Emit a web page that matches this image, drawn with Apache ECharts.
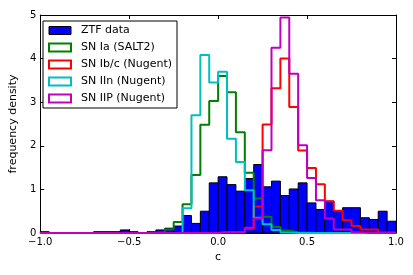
<!DOCTYPE html>
<html>
<head>
<meta charset="utf-8">
<script src="https://cdn.jsdelivr.net/npm/echarts@6/dist/echarts.min.js"></script>
<style>html,body{margin:0;padding:0;background:#fff}#c{width:413px;height:275px}</style>
</head>
<body>
<div id="c"></div>
<script>
// 40 bins of width 0.05 from -1.0 to 1.0 (bin start values)
const binStart = -1.0;
const binWidth = 0.05;
const ztfData = [0.03,0,0,0,0,0,0.03,0.03,0.03,0.07,
                 0.03,0,0.03,0.07,0.11,0.16,0.40,0.22,0.50,1.15,
                 1.29,1.11,0.96,1.25,1.57,1.06,1.19,0.86,1.01,1.15,
                 0.69,0.54,0.73,0.50,0.58,0.58,0.35,0.31,0.50,0.27];
const snIa   = [0,0,0,0,0,0,0,0,0,0,
                0,0,0.01,0.02,0.08,0.25,0.66,1.33,2.48,3.03,
                3.60,3.23,2.31,1.38,0.79,0.37,0.14,0.06,0.02,0.01,
                0,0,0,0,0,0,0,0,0,0];
const snIbc  = [0,0,0,0,0,0,0,0,0,0,
                0,0,0,0,0,0,0,0,0,0,
                0.01,0.01,0.02,0.10,0.61,2.49,3.32,4.00,2.89,1.89,
                1.49,1.12,0.73,0.51,0.29,0.16,0.08,0.08,0.01,0.01];
const snIIn  = [0,0,0,0,0,0,0,0,0,0,
                0,0,0,0,0,0,0.57,2.70,4.08,3.45,
                3.70,2.16,1.63,0.98,0.35,0.20,0.07,0.01,0,0,
                0,0,0,0,0,0,0,0,0,0];
const snIIP  = [0,0,0,0,0,0,0,0,0,0,
                0,0,0,0,0,0,0,0,0,0,
                0.02,0.02,0.02,0.12,0.33,1.90,4.25,4.94,3.65,2.01,
                1.26,0.75,0.33,0.08,0.08,0.02,0,0,0,0];
const xTicks = [-1.0,-0.5,0.0,0.5,1.0];
const yTicks = [0,1,2,3,4,5];
const names = ['ZTF data','SN Ia (SALT2)','SN Ib/c (Nugent)','SN IIn (Nugent)','SN IIP (Nugent)'];

const FONT = 'DejaVu Sans';
function edge(i){ return +(binStart + binWidth*i).toFixed(4); }
function stepPoints(vals){
  const pts = [[edge(0),0]];
  vals.forEach((v,i)=>{ pts.push([edge(i),v]); pts.push([edge(i+1),v]); });
  pts.push([edge(vals.length),0]);
  return pts;
}
const barData = ztfData.map((v,i)=>[edge(i),edge(i+1),v]);
function fmt(v){ return (v<0?'\u2212':'') + Math.abs(v).toFixed(1); }

const chart = echarts.init(document.getElementById('c'), null, {renderer:'canvas'});
const axisCommon = {
  axisLine:{show:true,onZero:false,lineStyle:{color:'#000',width:1}},
  axisTick:{show:true,inside:true,length:4,lineStyle:{color:'#000',width:1}},
  splitLine:{show:false}
};
function stepSeries(name, vals, color){
  return {type:'line', name:name, data:stepPoints(vals), showSymbol:false, symbol:'none',
    lineStyle:{color:color,width:2}, itemStyle:{color:color}, animation:false, z:3,
    xAxisIndex:0, yAxisIndex:0};
}
const colors = ['#0000ff','#008000','#ff0000','#00bfbf','#bf00bf'];
chart.setOption({
  animation:false,
  backgroundColor:'#fff',
  grid:{left:37,right:17,top:15,bottom:42},
  legend:{
    orient:'vertical', left:43, top:21, padding:[4,5,4,5],
    itemWidth:22, itemHeight:8, itemGap:6,
    borderColor:'#000', borderWidth:1, backgroundColor:'#fff',
    textStyle:{fontFamily:FONT,fontSize:11,color:'#000',padding:[0,0,0,5]},
    selectedMode:false,
    data:[
      {name:names[0],icon:'rect',itemStyle:{color:colors[0],borderColor:'#000',borderWidth:1}},
      {name:names[1],icon:'rect',itemStyle:{color:'#fff',borderColor:colors[1],borderWidth:2}},
      {name:names[2],icon:'rect',itemStyle:{color:'#fff',borderColor:colors[2],borderWidth:2}},
      {name:names[3],icon:'rect',itemStyle:{color:'#fff',borderColor:colors[3],borderWidth:2}},
      {name:names[4],icon:'rect',itemStyle:{color:'#fff',borderColor:colors[4],borderWidth:2}}
    ]
  },
  xAxis:[
    Object.assign({type:'value',min:xTicks[0],max:xTicks[xTicks.length-1],interval:0.5,position:'bottom',
      axisLabel:{fontFamily:FONT,fontSize:10,color:'#000',margin:4,formatter:fmt},
      name:'c',nameLocation:'middle',nameGap:19,nameTextStyle:{fontFamily:FONT,fontSize:11,color:'#000'}},axisCommon),
    Object.assign({type:'value',min:xTicks[0],max:xTicks[xTicks.length-1],interval:0.5,position:'top',
      axisLabel:{show:false}},axisCommon)
  ],
  yAxis:[
    Object.assign({type:'value',min:yTicks[0],max:yTicks[yTicks.length-1],interval:1,position:'left',
      axisLabel:{fontFamily:FONT,fontSize:10,color:'#000',margin:4},
      name:'frequency density',nameLocation:'middle',nameGap:14,nameTextStyle:{fontFamily:FONT,fontSize:11,color:'#000'}},axisCommon),
    Object.assign({type:'value',min:yTicks[0],max:yTicks[yTicks.length-1],interval:1,position:'right',
      axisLabel:{show:false}},axisCommon)
  ],
  series:[
    {type:'custom', name:names[0], data:barData, encode:{x:[0,1],y:2}, z:2,
      itemStyle:{color:colors[0]},
      renderItem:function(params, api){
        const p0 = api.coord([api.value(0), api.value(2)]);
        const p1 = api.coord([api.value(1), 0]);
        return {type:'rect', shape:{x:p0[0],y:p0[1],width:p1[0]-p0[0],height:p1[1]-p0[1]},
          style:{fill:colors[0],stroke:'#000',lineWidth:1}};
      }},
    stepSeries(names[1], snIa, colors[1]),
    stepSeries(names[2], snIbc, colors[2]),
    stepSeries(names[3], snIIn, colors[3]),
    stepSeries(names[4], snIIP, colors[4])
  ]
});
</script>
</body>
</html>
